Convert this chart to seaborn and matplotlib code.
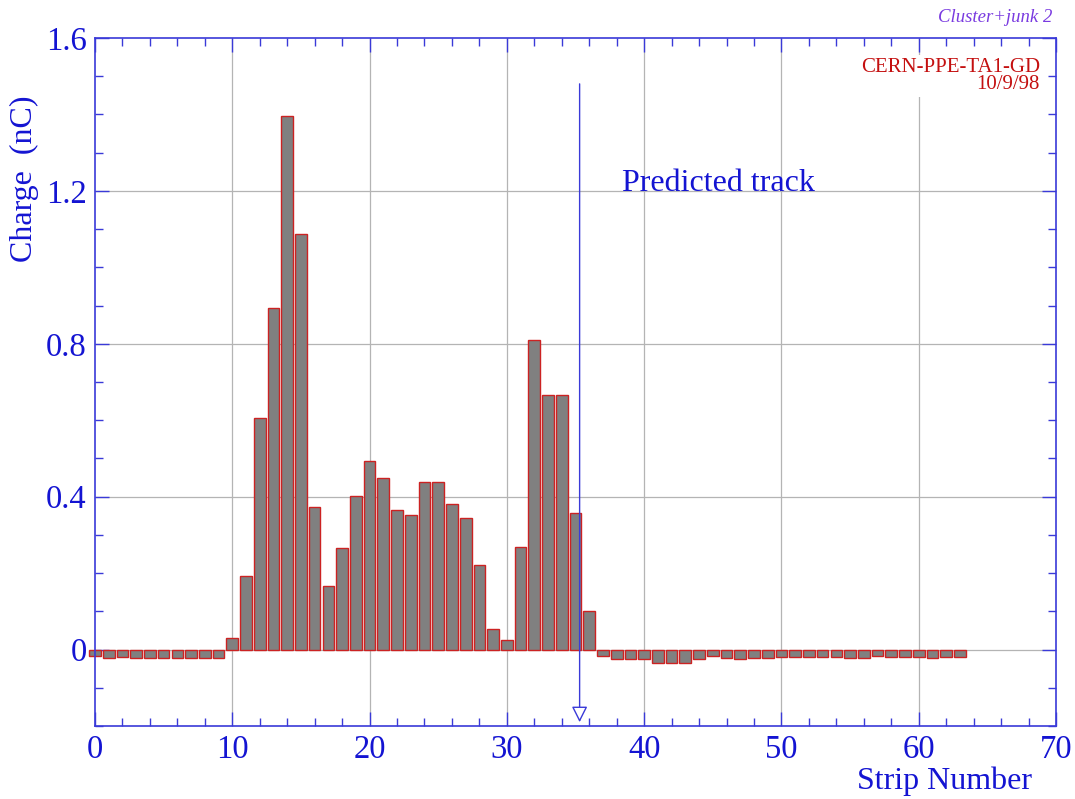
import matplotlib
matplotlib.use("Agg")
import matplotlib.pyplot as plt
from matplotlib.ticker import MultipleLocator, FixedLocator, FuncFormatter
import seaborn as sns
import pandas as pd

# ---- data ----
strips = list(range(64))
charge = [-0.017, -0.022, -0.020, -0.022, -0.022, -0.022, -0.022, -0.022, -0.022, -0.022,
          0.031, 0.193, 0.607, 0.894, 1.395, 1.088, 0.373, 0.167, 0.267, 0.403,
          0.494, 0.450, 0.366, 0.353, 0.438, 0.438, 0.382, 0.345, 0.220, 0.055,
          0.026, 0.269, 0.810, 0.667, 0.667, 0.358, 0.102, -0.017, -0.024, -0.024,
          -0.024, -0.035, -0.035, -0.035, -0.024, -0.017, -0.022, -0.024, -0.021, -0.021,
          -0.019, -0.019, -0.019, -0.019, -0.019, -0.022, -0.022, -0.017, -0.019, -0.019,
          -0.019, -0.022, -0.019, -0.019]
track_x = 35.3
track_top = 1.48
y_ticks = [0, 0.4, 0.8, 1.2, 1.6]
x_ticks = [0, 10, 20, 30, 40, 50, 60, 70]

df = pd.DataFrame({"strip": strips, "charge": charge})

BLUE = "#1414d2"
SPINE = "#3a3ad8"
GRID = "#b4b4b4"
plt.rcParams["font.family"] = ["Liberation Serif", "DejaVu Serif"]

fig = plt.figure(figsize=(10.75, 7.99), dpi=100)
ax = fig.add_axes([95/1075, 1-726/799, 961/1075, 688/799])

sns.barplot(data=df, x="strip", y="charge", native_scale=True, width=0.85,
            color="#808080", saturation=1, edgecolor="#cc2222", linewidth=1.0,
            ax=ax, zorder=2)
for p in ax.patches:
    p.set_clip_on(False)

ax.set_xlim(0, 70)
ax.set_ylim(-0.2, 1.6)

# grid
ax.set_axisbelow(True)
for xv in x_ticks[1:-1]:
    ax.axvline(xv, color=GRID, lw=0.9, zorder=0.5)
for yv in y_ticks[:-1]:
    ax.axhline(yv, color=GRID, lw=0.9, zorder=0.5)

# ticks
ax.xaxis.set_major_locator(FixedLocator(x_ticks))
ax.xaxis.set_minor_locator(MultipleLocator(2))
ax.yaxis.set_major_locator(FixedLocator(y_ticks))
ax.yaxis.set_minor_locator(MultipleLocator(0.1))
ax.yaxis.set_major_formatter(FuncFormatter(lambda v, p: "0" if abs(v) < 1e-9 else f"{v:.1f}"))
ax.xaxis.set_major_formatter(FuncFormatter(lambda v, p: f"{int(round(v))}"))
ax.tick_params(which="both", direction="in", top=True, right=True, color=SPINE,
               labelcolor=BLUE, labelsize=23.5, pad=6)
ax.tick_params(which="major", length=10, width=1)
ax.tick_params(which="minor", length=6, width=1)
for s in ax.spines.values():
    s.set_color(SPINE)
    s.set_linewidth(1.2)

ax.set_xlabel("")
ax.set_ylabel("")
ax.text(-0.073, 0.917, "Charge  (nC)", rotation=90, ha="center", va="top",
        transform=ax.transAxes, fontsize=23, color=BLUE)
ax.text(0.975, -0.081, "Strip Number", ha="right", va="center",
        transform=ax.transAxes, fontsize=23, color=BLUE)

# predicted track arrow
ax.annotate("", xy=(track_x, -0.19), xytext=(track_x, track_top),
            arrowprops=dict(arrowstyle="-|>", color=SPINE, lw=1.0, fc="white",
                            mutation_scale=24, shrinkA=0, shrinkB=0), zorder=3)
ax.text(38.4, 1.2, "Predicted track", fontsize=23, color=BLUE, ha="left", va="baseline")

# labels
fig.text(1040/1075, 1-76/799, "CERN-PPE-TA1-GD\n10/9/98",
         ha="right", va="center", fontsize=15, color="#c41010", linespacing=0.9,
         bbox=dict(facecolor="white", edgecolor="none", pad=2), zorder=4)
fig.text(1052/1075, 1-18/799, "Cluster+junk 2", ha="right", va="center",
         fontsize=13.5, style="italic", color="#7a3be0")

fig.savefig("out.png", dpi=100)
